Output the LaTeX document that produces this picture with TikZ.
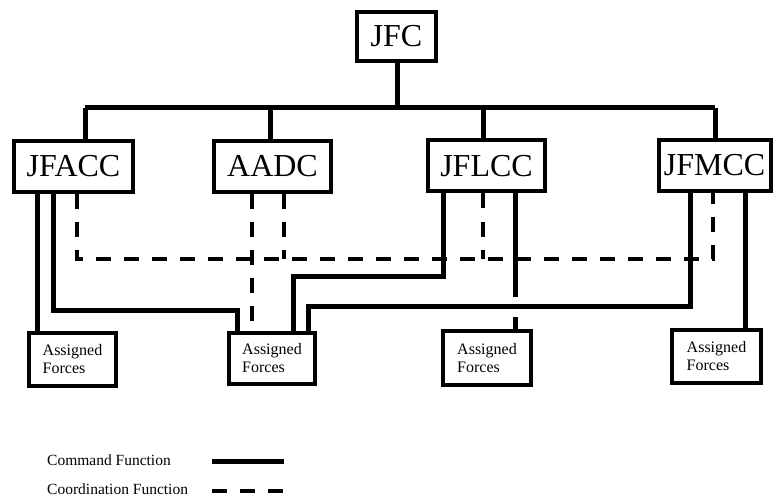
\documentclass[tikz,border=0pt]{standalone}
\usepackage{fontspec}
\setmainfont{Liberation Serif}
\begin{document}
\begin{tikzpicture}[x=1pt,y=-1pt,
  bigbox/.style={draw, line width=4pt, inner sep=0pt, font=\fontsize{32}{36}\selectfont},
  afbox/.style={draw, line width=4pt, inner sep=0pt, align=left, font=\fontsize{16}{18}\selectfont},
  cmd/.style={line width=5pt, line join=miter},
  coordl/.style={line width=4pt, line join=miter, dash pattern=on 15pt off 13pt},
  legtext/.style={anchor=west, inner sep=0pt, font=\fontsize{15.5}{18}\selectfont}]
\useasboundingbox (0,0) rectangle (776,497);
\fill[white] (0,0) rectangle (776,497);

% top boxes
\node[bigbox, minimum width=79pt, minimum height=49pt] (JFC) at (396.5,36.5) {JFC};
\node[bigbox, minimum width=119pt, minimum height=51pt] (JFACC) at (73.5,166.5) {JFACC};
\node[bigbox, minimum width=117pt, minimum height=51pt] (AADC) at (272.5,166.5) {AADC};
\node[bigbox, minimum width=117pt, minimum height=51pt] (JFLCC) at (486.5,166) {JFLCC};
\node[bigbox, minimum width=112pt, minimum height=51pt] (JFMCC) at (714.5,165.5) {JFMCC};

% assigned forces
\node[afbox, minimum width=87pt, minimum height=53pt] (AF1) at (72.5,359.5) {Assigned\\Forces};
\node[afbox, minimum width=86pt, minimum height=51pt] (AF2) at (272,358.5) {Assigned\\Forces};
\node[afbox, minimum width=88pt, minimum height=54pt] (AF3) at (487,358) {Assigned\\Forces};
\node[afbox, minimum width=89pt, minimum height=53pt] (AF4) at (716.5,356.5) {Assigned\\Forces};

% bus
\coordinate (busL) at (85,108);
\coordinate (busR) at (715,108);
\draw[cmd] (JFC.south -| 397,0) -- (397,108);
\draw[cmd] (busL) -- (busR);
\draw[cmd] (busL) -- (busL |- JFACC.north);
\draw[cmd] (270,108) -- (270,0 |- AADC.north);
\draw[cmd] (483,108) -- (483,0 |- JFLCC.north);
\draw[cmd] (busR) -- (busR |- JFMCC.north);

% JFACC lines
\draw[cmd] (37,0 |- JFACC.south) -- (37,0 |- AF1.north);
\coordinate (a1) at (53,310);
\coordinate (a2) at (237,310);
\draw[cmd] (53,0 |- JFACC.south) -- (a1) -- (a2) -- (237,0 |- AF2.north);

% coordination dashed line
\coordinate (d1) at (77,259);
\coordinate (d2) at (713,259);
\draw[coordl] (77,0 |- JFACC.south) -- (d1) -- (d2) -- (713,0 |- JFMCC.south);

% AADC lines
\draw[coordl] (252,0 |- AADC.south) -- (252,0 |- AF2.north);
\draw[coordl] (284,0 |- AADC.south) -- (284,259);

% JFLCC lines
\coordinate (l1) at (443,276);
\coordinate (l2) at (293,276);
\draw[cmd] (443,0 |- JFLCC.south) -- (l1) -- (l2) -- (293,0 |- AF2.north);
\draw[coordl] (483,0 |- JFLCC.south) -- (483,259);
\draw[cmd] (515,0 |- JFLCC.south) -- (515,297);
\draw[cmd] (515,317) -- (515,0 |- AF3.north);

% JFMCC lines
\coordinate (m1) at (690,306);
\coordinate (m2) at (308,306);
\draw[cmd] (690,0 |- JFMCC.south) -- (m1) -- (m2) -- (308,0 |- AF2.north);
\draw[cmd] (745,0 |- JFMCC.south) -- (745,0 |- AF4.north);

% legend
\node[legtext] (lc) at (47,460) {Command Function};
\node[legtext] (ld) at (47,489) {Coordination Function};
\coordinate (lc1) at (212,461);
\coordinate (lc2) at (284,461);
\coordinate (ld1) at (212,491);
\coordinate (ld2) at (284,491);
\draw[cmd] (lc1) -- (lc2);
\draw[coordl] (ld1) -- (ld2);
\end{tikzpicture}
\end{document}
